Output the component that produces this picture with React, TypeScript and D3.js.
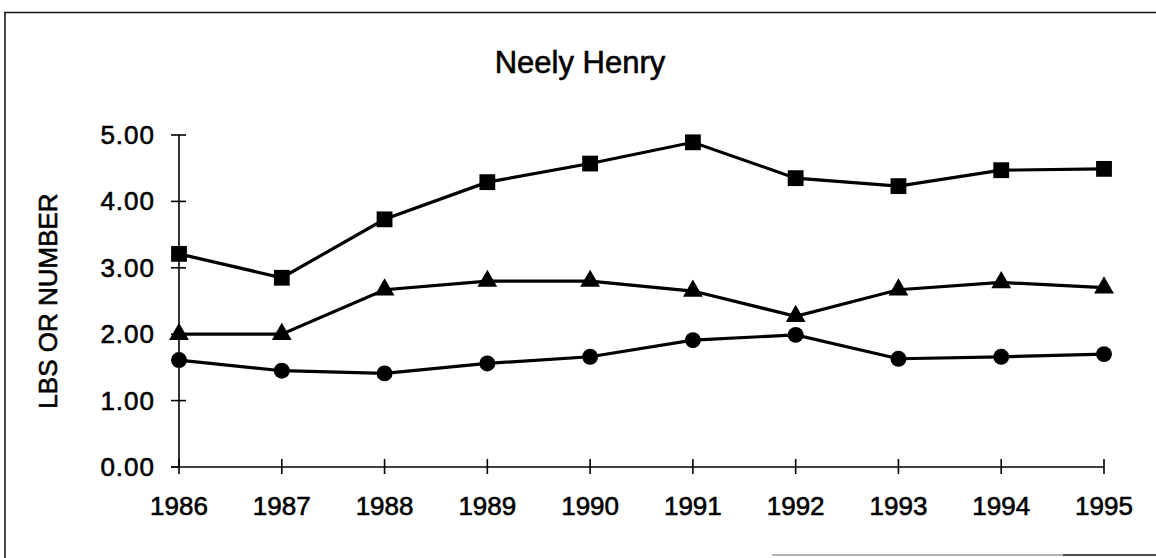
import React, { useEffect, useRef } from 'react';
import * as d3 from 'd3';

const years = ['1986', '1987', '1988', '1989', '1990', '1991', '1992', '1993', '1994', '1995'];
const squareSeries = [3.21, 2.85, 3.73, 4.29, 4.57, 4.89, 4.35, 4.23, 4.47, 4.49];
const triangleSeries = [2.0, 2.0, 2.67, 2.8, 2.8, 2.65, 2.27, 2.67, 2.78, 2.7];
const circleSeries = [1.61, 1.45, 1.41, 1.56, 1.66, 1.91, 1.99, 1.63, 1.66, 1.7];
const yTicks = [0, 1, 2, 3, 4, 5];
const title = 'Neely Henry';
const yLabel = 'LBS OR NUMBER';

const W = 1156;
const H = 558;
const FONT = '"Liberation Sans", Arial, Helvetica, sans-serif';

const App = () => {
  const svgRef = useRef<SVGSVGElement>(null);

  useEffect(() => {
    const svg = d3.select(svgRef.current);
    svg.selectAll('*').remove();

    const xScale = d3.scalePoint<string>().domain(years).range([179, 1104]);
    const yScale = d3.scaleLinear().domain([0, 5]).range([467, 135]);

    // frame (scanned page: top + left edge, partial bottom)
    svg.append('line').attr('x1', 4).attr('y1', 12.5).attr('x2', W).attr('y2', 12.5)
      .attr('stroke', '#111').attr('stroke-width', 1.5);
    svg.append('line').attr('x1', 5).attr('y1', 12).attr('x2', 5).attr('y2', H)
      .attr('stroke', '#111').attr('stroke-width', 1.5);
    svg.append('line').attr('x1', 772).attr('y1', 555).attr('x2', 1063).attr('y2', 555)
      .attr('stroke', '#999').attr('stroke-width', 1.5);
    svg.append('line').attr('x1', 1063).attr('y1', 555).attr('x2', W).attr('y2', 555)
      .attr('stroke', '#111').attr('stroke-width', 1.5);

    const addText = (x: number, y: number, s: string, size: number, anchor: string) =>
      svg.append('text')
        .attr('x', x).attr('y', y)
        .attr('text-anchor', anchor)
        .style('font-family', FONT).style('font-size', `${size}px`)
        .attr('fill', '#000')
        .attr('stroke', '#000')
        .attr('stroke-width', 0.6)
        .text(s);

    // title
    addText(580, 73, title, 31, 'middle');

    // y axis label
    addText(0, 0, yLabel, 26, 'middle')
      .attr('transform', `translate(57,${(yScale(0) + yScale(5)) / 2}) rotate(-90)`);

    // axes
    const axis = svg.append('g').attr('stroke', '#000').attr('stroke-width', 1.6);
    axis.append('line')
      .attr('x1', xScale(years[0])).attr('x2', xScale(years[0]))
      .attr('y1', yScale(5)).attr('y2', yScale(0));
    axis.append('line')
      .attr('x1', xScale(years[0]) - 8).attr('x2', xScale(years[years.length - 1]))
      .attr('y1', yScale(0)).attr('y2', yScale(0));

    yTicks.forEach(t => {
      axis.append('line')
        .attr('x1', xScale(years[0]) - 8).attr('x2', xScale(years[0]) + (t === 0 ? 0 : 7))
        .attr('y1', yScale(t)).attr('y2', yScale(t));
      addText(155, yScale(t) + 9, t.toFixed(2), 26, 'end').style('letter-spacing', '1px');
    });

    years.forEach(yr => {
      const x = xScale(yr)!;
      axis.append('line')
        .attr('x1', x).attr('x2', x)
        .attr('y1', yScale(0) - 8).attr('y2', yScale(0) + 7);
      addText(x, 515, yr, 26, 'middle');
    });

    // series
    const line = d3.line<number>()
      .x((_, i) => xScale(years[i])!)
      .y(d => yScale(d));

    const drawSeries = (values: number[], symbolType: d3.SymbolType, size: number) => {
      svg.append('path')
        .datum(values)
        .attr('fill', 'none')
        .attr('stroke', '#000')
        .attr('stroke-width', 3.2)
        .attr('d', line);
      svg.append('g')
        .selectAll('path')
        .data(values)
        .join('path')
        .attr('transform', (d, i) => `translate(${xScale(years[i])},${yScale(d)})`)
        .attr('d', d3.symbol().type(symbolType).size(size)())
        .attr('fill', '#000');
    };

    drawSeries(squareSeries, d3.symbolSquare, 250);
    drawSeries(triangleSeries, d3.symbolTriangle, 170);
    drawSeries(circleSeries, d3.symbolCircle, 200);
  }, []);

  return (
    <svg
      ref={svgRef}
      width={W}
      height={H}
      style={{ position: 'absolute', top: 0, left: 0, background: '#fff' }}
    />
  );
};

export default App;
